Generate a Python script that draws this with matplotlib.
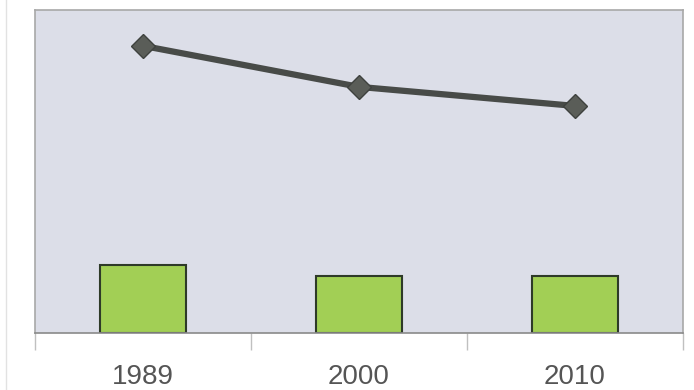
import matplotlib.pyplot as plt
from matplotlib.lines import Line2D
import numpy as np

years = ["1989", "2000", "2010"]
bar_values = [21.0, 17.6, 17.6]
line_values = [88.9, 76.2, 70.3]

fig = plt.figure(figsize=(6.94, 3.90), dpi=100)
ax = fig.add_axes([35 / 694, 57 / 390, 648 / 694, 323 / 390])
ax.set_facecolor("#dcdee8")

x = np.arange(len(years))
ax.bar(x, bar_values, width=0.4, color="#a2cf55", edgecolor="#2e3a28", linewidth=1.5, zorder=2)
ax.plot(x, line_values, color="#484b48", linewidth=4.5, marker="D", markersize=12,
        markerfacecolor="#5a5d58", markeredgecolor="#3e413e", zorder=3)

ax.set_xlim(-0.5, len(years) - 0.5)
ax.set_ylim(0, 100)
ax.set_yticks([])

# category labels in the middle, tick marks on the boundaries
ax.set_xticks(x)
ax.set_xticklabels(years, fontsize=20, family="Liberation Sans", color="#555555")
ax.tick_params(axis="x", which="major", length=0, pad=22)
ax.set_xticks(np.arange(-0.5, len(years)), minor=True)
ax.tick_params(axis="x", which="minor", length=12, width=1, color="#c0c0c0", direction="out")

for side in ax.spines.values():
    side.set_color("#a8a8a8")
    side.set_linewidth(1.2)
ax.spines["bottom"].set_color("#8a8a8a")

# faint frame edge on the left of the figure
fig.add_artist(Line2D([6 / 694, 6 / 694], [0, 1], transform=fig.transFigure,
                      color="#e2e2e2", linewidth=1))

fig.savefig("out.png", dpi=100)
